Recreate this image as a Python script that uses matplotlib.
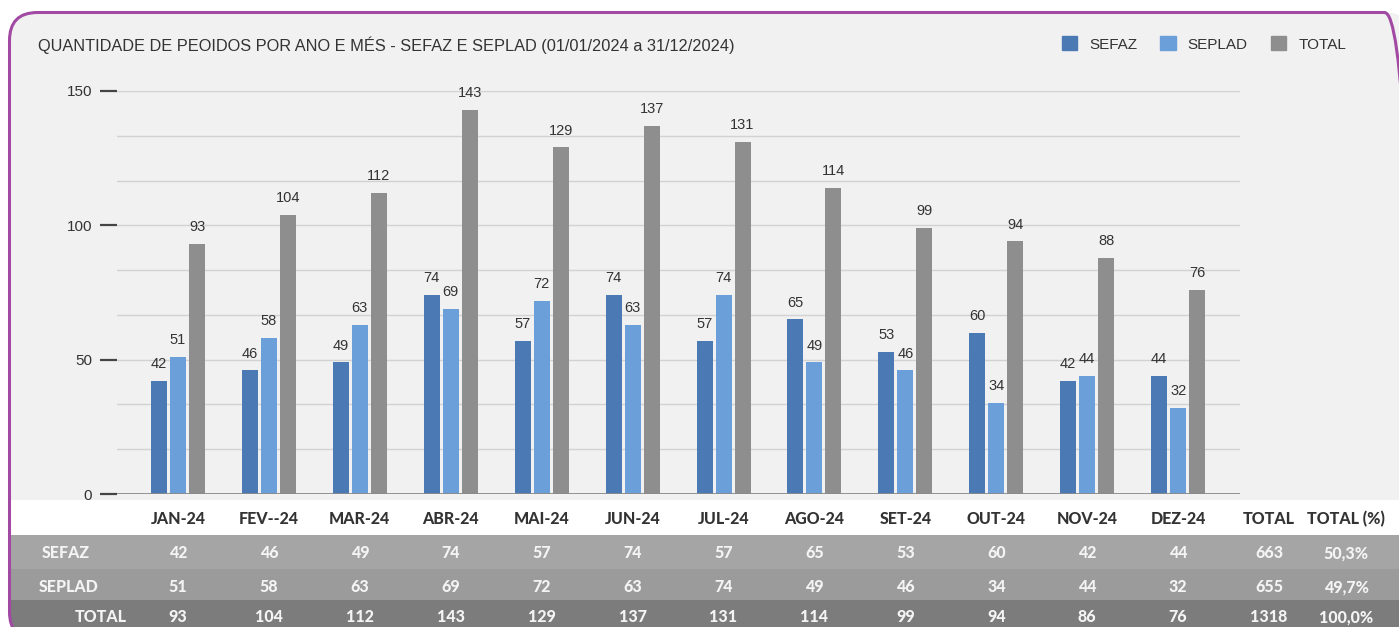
import numpy as np
import matplotlib
matplotlib.use("Agg")
import matplotlib.pyplot as plt
from matplotlib.patches import FancyBboxPatch, Rectangle, Patch
from matplotlib.transforms import blended_transform_factory

months = ["JAN-24", "FEV--24", "MAR-24", "ABR-24", "MAI-24", "JUN-24",
          "JUL-24", "AGO-24", "SET-24", "OUT-24", "NOV-24", "DEZ-24"]
sefaz = [42, 46, 49, 74, 57, 74, 57, 65, 53, 60, 42, 44]
seplad = [51, 58, 63, 69, 72, 63, 74, 49, 46, 34, 44, 32]
total = [93, 104, 112, 143, 129, 137, 131, 114, 99, 94, 88, 76]
# table totals as printed (NOV differs from the bar label)
table_total = [93, 104, 112, 143, 129, 137, 131, 114, 99, 94, 86, 76]
sum_cols = ["TOTAL", "TOTAL (%)"]
sum_sefaz = ["663", "50,3%"]
sum_seplad = ["655", "49,7%"]
sum_total = ["1318", "100,0%"]

title = "QUANTIDADE DE PEOIDOS POR ANO E MÉS - SEFAZ E SEPLAD (01/01/2024 a 31/12/2024)"

c_sefaz = "#4a79b3"
c_seplad = "#6b9fda"
c_total = "#8e8e8e"
txt = "#333333"

W, H = 1399, 627
fig = plt.figure(figsize=(W / 100, H / 100), dpi=100)
fig.patch.set_facecolor("white")
inch = fig.dpi_scale_trans

def fx(px):
    return px / W

def fy(py):
    return 1 - py / H

# rounded frame
frame = dict(boxstyle="round,pad=0,rounding_size=0.28", transform=inch)
box = FancyBboxPatch((0.095, -0.13), 14.03, 6.275, facecolor="#f1f1f1",
                     edgecolor="none", zorder=-3, **frame)
fig.add_artist(box)

rows = [(500, 535, "white"), (535, 569, "#a5a5a5"), (569, 600, "#9b9b9b"), (600, 650, "#7c7c7c")]
for top, bot, col in rows:
    r = Rectangle((0, (H - bot) / 100), 14.5, (bot - top) / 100, transform=inch,
                  facecolor=col, edgecolor="none", zorder=-2)
    fig.add_artist(r)
    r.set_clip_path(box)

edge = FancyBboxPatch((0.095, -0.13), 14.03, 6.275, facecolor="none",
                      edgecolor="#a24aa3", linewidth=2.2, zorder=5, **frame)
fig.add_artist(edge)

# chart
ax = fig.add_axes([fx(117), fy(494), (1240 - 117) / W, (494 - 91) / H])
ax.patch.set_visible(False)
x = np.arange(len(months))
bw = 0.176
off = 0.209
b1 = ax.bar(x - off, sefaz, bw, color=c_sefaz, zorder=3)
b2 = ax.bar(x, seplad, bw, color=c_seplad, zorder=3)
b3 = ax.bar(x + off, total, bw, color=c_total, zorder=3)
for bars in (b1, b2, b3):
    ax.bar_label(bars, padding=7, fontsize=10.5, color=txt, family="Liberation Sans")

ax.set_xlim(-0.671, 11.68)
ax.set_ylim(0, 150)
for s in ax.spines.values():
    s.set_visible(False)
ax.set_xticks([])
ax.set_yticks([0, 50, 100, 150])
ax.set_yticks(np.arange(0, 151, 50 / 3), minor=True)
ax.tick_params(axis="y", which="major", direction="out", length=12, width=1.6,
               color="#444444", pad=6, labelsize=11, labelcolor=txt)
ax.tick_params(axis="y", which="minor", length=0)
for lab in ax.get_yticklabels():
    lab.set_family("Liberation Sans")
ax.grid(axis="y", which="both", color="#d2d2d2", linewidth=1, zorder=0)
ax.axhline(0, color="#8a8a8a", linewidth=2, zorder=4)

# title and legend
fig.text(fx(38), fy(45), title, fontsize=11.8, color=txt, va="center",
         family="Liberation Sans")
handles = [Patch(color=c_sefaz, label="SEFAZ"), Patch(color=c_seplad, label="SEPLAD"),
           Patch(color=c_total, label="TOTAL")]
leg = ax.legend(handles=handles, loc="center left", bbox_to_anchor=(fx(1048), fy(44)),
                bbox_transform=fig.transFigure, ncol=3, frameon=False, handlelength=1.0,
                handleheight=1.0, handletextpad=0.8, columnspacing=1.5,
                prop={"family": "Liberation Sans", "size": 11})
for t in leg.get_texts():
    t.set_color(txt)

# table below
tr = blended_transform_factory(ax.transData, fig.transFigure)
tfont = {"family": "Lato", "weight": "black", "size": 11.5}
light = "#f4f4f4"
row_y = [fy(519), fy(553), fy(587), fy(617)]
for i, m in enumerate(months):
    fig.text(i, row_y[0], m, transform=tr, ha="center", va="center", color=txt, **tfont)
    fig.text(i, row_y[1], str(sefaz[i]), transform=tr, ha="center", va="center", color=light, **tfont)
    fig.text(i, row_y[2], str(seplad[i]), transform=tr, ha="center", va="center", color=light, **tfont)
    fig.text(i, row_y[3], str(table_total[i]), transform=tr, ha="center", va="center", color=light, **tfont)
for j, xx in enumerate([12.0, 12.85]):
    fig.text(xx, row_y[0], sum_cols[j], transform=tr, ha="center", va="center", color=txt, **tfont)
    fig.text(xx, row_y[1], sum_sefaz[j], transform=tr, ha="center", va="center", color=light, **tfont)
    fig.text(xx, row_y[2], sum_seplad[j], transform=tr, ha="center", va="center", color=light, **tfont)
    fig.text(xx, row_y[3], sum_total[j], transform=tr, ha="center", va="center", color=light, **tfont)
fig.text(fx(66), row_y[1], "SEFAZ", ha="center", va="center", color=light, **tfont)
fig.text(fx(69), row_y[2], "SEPLAD", ha="center", va="center", color=light, **tfont)
fig.text(fx(127), row_y[3], "TOTAL", ha="right", va="center", color=light, **tfont)

fig.savefig("out.png", dpi=100)
